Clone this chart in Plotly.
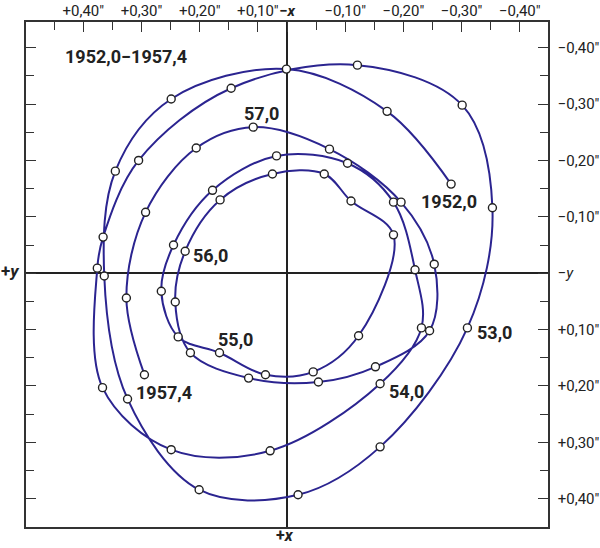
import plotly.graph_objects as go

# Pole position readings (arcsec), in chronological order 1952.0 -> 1957.4
x_arcsec = [-0.282, -0.172, 0.001, 0.199, 0.295, 0.314, 0.274, 0.151, -0.019, -0.160,
            -0.310, -0.353, -0.301, -0.121, 0.096, 0.255, 0.316, 0.326, 0.317, 0.199,
            0.029, -0.160, -0.231, -0.220, -0.183, -0.104, 0.018, 0.128, 0.195, 0.216,
            0.187, 0.116, 0.037, -0.045, -0.123, -0.183, -0.110, -0.064, 0.025, 0.115,
            0.175, 0.192, 0.166, 0.066, -0.054, -0.152, -0.245, -0.253, -0.196, -0.073,
            0.058, 0.156, 0.243, 0.276, 0.245]
y_arcsec = [-0.158, -0.287, -0.362, -0.309, -0.181, 0.005, 0.223, 0.384, 0.393, 0.308,
            0.097, -0.116, -0.298, -0.369, -0.328, -0.200, -0.064, -0.009, 0.203, 0.313,
            0.315, 0.196, 0.097, -0.006, -0.126, -0.195, -0.208, -0.147, -0.050, 0.032,
            0.113, 0.141, 0.180, 0.175, 0.111, -0.068, -0.128, -0.176, -0.176, -0.130,
            -0.039, 0.051, 0.141, 0.186, 0.193, 0.166, 0.102, -0.016, -0.126, -0.220,
            -0.259, -0.222, -0.108, 0.044, 0.180]

# Epoch labels and their positions (arcsec)
label_text = ["1952,0\u22121957,4", "57,0", "1952,0", "56,0", "55,0", "54,0", "53,0", "1957,4"]
label_x = [0.276, 0.044, -0.279, 0.131, 0.089, -0.205, -0.356, 0.211]
label_y = [-0.385, -0.284, -0.128, -0.032, 0.118, 0.210, 0.106, 0.212]

# Axis ticks
x_major_vals = [0.35, 0.25, 0.15, 0.05, 0.0, -0.10, -0.20, -0.30, -0.40]
x_major_text = ["+0,40\u2033", "+0,30\u2033", "+0,20\u2033", "+0,10\u2033", "<b>\u2212<i>x</i></b>",
                "\u22120,10\u2033", "\u22120,20\u2033", "\u22120,30\u2033", "\u22120,40\u2033"]
x_minor_vals = [0.40, 0.30, 0.20, 0.10, -0.05, -0.15, -0.25, -0.35]
y_major_vals = [-0.40, -0.30, -0.20, -0.10, 0.0, 0.10, 0.20, 0.30, 0.40]
y_major_text = ["\u22120,40\u2033", "\u22120,30\u2033", "\u22120,20\u2033", "\u22120,10\u2033", "\u2212<i>y</i>",
                "+0,10\u2033", "+0,20\u2033", "+0,30\u2033", "+0,40\u2033"]
y_minor_vals = [-0.35, -0.25, -0.15, -0.05, 0.05, 0.15, 0.25, 0.35]

FONT = "Roboto, DejaVu Sans"
INK = "#222222"
LINE = "#2b2490"

fig = go.Figure()
fig.add_trace(go.Scatter(
    x=x_arcsec, y=y_arcsec, mode="lines+markers",
    line=dict(color=LINE, width=2, shape="spline", smoothing=1.0),
    marker=dict(size=8, color="white", line=dict(color=INK, width=1.4)),
    hoverinfo="skip",
))

for t, lx, ly in zip(label_text, label_x, label_y):
    fig.add_annotation(x=lx, y=ly, text=f"<b>{t}</b>", showarrow=False,
                       font=dict(family=FONT, size=18, color=INK))

fig.add_annotation(xref="paper", yref="paper", x=-0.008, y=0.507, xanchor="right",
                   text="<b>+<i>y</i></b>", showarrow=False,
                   font=dict(family=FONT, size=17, color=INK))
fig.add_annotation(xref="paper", yref="paper", x=0.496, y=-0.040, yanchor="bottom",
                   text="<b>+<i>x</i></b>", showarrow=False,
                   font=dict(family=FONT, size=16, color=INK))

fig.update_xaxes(
    range=[0.4485, -0.4485], side="top", showgrid=False, automargin=False, tickangle=0,
    showline=True, linecolor="#333333", linewidth=1.5, mirror=True,
    zeroline=True, zerolinecolor=INK, zerolinewidth=1.5,
    ticks="inside", ticklen=10, tickwidth=1.3, tickcolor="#333333",
    tickvals=x_major_vals, ticktext=x_major_text, ticklabelstandoff=-2,
    tickfont=dict(family=FONT, size=15, color=INK),
    minor=dict(tickvals=x_minor_vals, ticks="inside", ticklen=8, tickwidth=1.3,
               tickcolor="#333333", showgrid=False),
)
fig.update_yaxes(
    range=[0.4501, -0.4455], side="right", showgrid=False, automargin=False, tickangle=0,
    showline=True, linecolor="#333333", linewidth=1.5, mirror="ticks",
    zeroline=True, zerolinecolor=INK, zerolinewidth=1.5,
    ticks="inside", ticklen=10, tickwidth=1.3, tickcolor="#333333",
    tickvals=y_major_vals, ticktext=y_major_text,
    tickfont=dict(family=FONT, size=15, color=INK), ticklabelstandoff=5,
    minor=dict(tickvals=y_minor_vals, ticks="inside", ticklen=8, tickwidth=1.3,
               tickcolor="#333333", showgrid=False),
)
fig.update_layout(
    width=600, height=548, margin=dict(l=26, r=52, t=22, b=21),
    plot_bgcolor="white", paper_bgcolor="white", showlegend=False,
)
fig.write_html("out.html", config={"displayModeBar": False},
               post_script="document.body.style.margin='0px';")
